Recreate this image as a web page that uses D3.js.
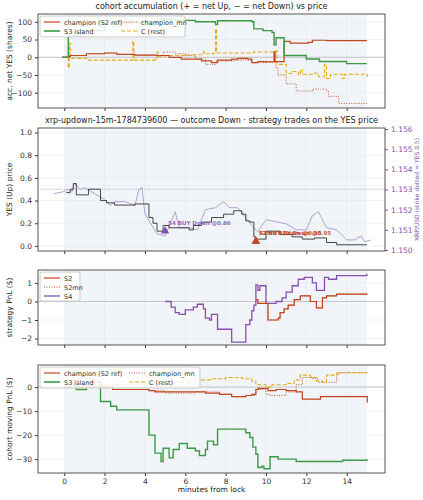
<!DOCTYPE html>
<html><head><meta charset="utf-8">
<script src="https://cdn.jsdelivr.net/npm/d3@7"></script>
<style>body{margin:0;background:#fff}text{font-family:"DejaVu Sans",sans-serif}</style>
</head><body><div id="chart"></div>
<script>
// ---- data (minutes from lock, value) ----
const xTicks = [0, 2, 4, 6, 8, 10, 12, 14];

const accChampion = [[-0.1,0],[0.2,2],[0.3,5],[1.0,5],[1.1,10],[2.0,12],[2.6,8],[3.5,6],[4.6,5],[5.2,0],[5.8,-5],[6.8,-10],[7.3,-15],[7.6,-8],[8.3,-5],[8.6,-3],[9.1,-5],[9.3,-15],[9.6,-12],[10.0,-13],[10.4,15],[10.45,-12],[10.9,45],[11.2,40],[12.1,42],[12.3,48],[13.0,47],[15,47]];
const accChampionMn = [[-0.1,0],[0.2,2],[0.3,5],[1.0,5],[1.1,10],[2.0,12],[2.6,8],[3.5,6],[4.6,5],[4.9,15],[5.5,10],[6.0,5],[6.5,-5],[7.0,-20],[7.5,-10],[8.5,-8],[9.3,-15],[10.0,-12],[10.5,-30],[10.6,-50],[11.0,-75],[11.5,-95],[12.3,-90],[13.0,-95],[13.1,-110],[13.6,-130],[15,-132]];
const accS3 = [[-0.1,0],[0.2,60],[0.8,75],[2.0,97],[3.8,100],[4.85,108],[5.5,104],[6.5,100],[7.5,92],[7.6,103],[9.3,100],[9.4,80],[9.85,75],[10.3,70],[10.4,35],[10.5,55],[10.9,5],[12.0,-5],[12.65,-12],[14.0,-18],[15,-18]];
const accRest = [[-0.1,0],[0.2,-30],[0.25,40],[0.3,-3],[1.2,-8],[3.4,45],[3.45,-8],[4.6,15],[4.65,3],[5.0,5],[6.0,7],[6.9,15],[6.95,10],[7.4,12],[7.5,80],[7.55,12],[9.2,12],[9.4,15],[10.5,18],[10.55,-20],[11.0,-45],[11.3,-40],[11.6,-50],[11.7,-35],[11.8,-48],[12.3,-45],[12.6,-55],[12.9,-20],[13.0,-60],[13.2,-48],[13.8,-60],[13.9,-48],[15,-48],[15.02,-55]];

const yesPrice = [[0.1,0.47],[0.3,0.5],[0.45,0.55],[0.6,0.45],[1.2,0.5],[1.8,0.4],[2.1,0.38],[2.5,0.36],[3.5,0.37],[4.2,0.25],[4.4,0.2],[4.6,0.13],[4.9,0.18],[5.2,0.16],[6.2,0.14],[6.4,0.18],[6.8,0.21],[7.3,0.25],[7.9,0.28],[8.4,0.31],[8.8,0.28],[9.0,0.22],[9.2,0.21],[9.4,0.08],[9.5,0.06],[10.0,0.13],[10.7,0.1],[11.3,0.08],[11.8,0.06],[12.4,0.07],[13.0,0.03],[13.5,0.01],[15,0.01]];
const xrpUsd = [[-0.5,1.1528],[0,1.1529],[0.2,1.1530],[0.4,1.1529],[0.5,1.1533],[0.8,1.1530],[1.0,1.1531],[1.5,1.1528],[2.0,1.1525],[2.3,1.1522],[2.5,1.1524],[3.0,1.1524],[3.3,1.1523],[3.5,1.1522],[3.7,1.1530],[3.85,1.1531],[4.0,1.1518],[4.3,1.1513],[4.6,1.1508],[5.0,1.1507],[5.5,1.1519],[5.7,1.1511],[6.2,1.1511],[6.6,1.1510],[7.0,1.1520],[7.5,1.1521],[7.9,1.1524],[8.2,1.1521],[8.6,1.1521],[9.0,1.1516],[9.4,1.1511],[9.6,1.1509],[10.0,1.1515],[10.5,1.1514],[11.0,1.1513],[11.5,1.1510],[12.0,1.1510],[12.3,1.1517],[12.6,1.1519],[13.0,1.1511],[13.5,1.1510],[14.0,1.1505],[14.4,1.1505],[14.7,1.1507],[14.9,1.1504],[15.2,1.1505]];
const trades = [
  {t: 5.0, p: 0.13, who: 'S4', label: 'S4 BUY Down @0.86'},
  {t: 9.5, p: 0.04, who: 'S2', label: 'S2 BUY Down @0.95'},
  {t: 9.5, p: 0.04, who: 'S2', label: 'S2mn BUY Down @0.95'}
];

const pnlS4 = [[5.0,0],[5.3,-0.3],[5.5,-0.6],[5.7,-0.7],[6.0,-0.45],[6.4,-0.3],[6.6,-0.15],[6.9,-0.4],[7.0,-0.9],[7.2,-1.0],[7.3,-0.7],[7.6,-1.5],[8.3,-2.2],[9.0,-1.25],[9.2,-1.0],[9.3,-0.5],[9.4,-0.2],[9.5,0.9],[9.6,0.6],[9.7,0.85],[10.0,-0.1],[10.5,0.0],[10.8,0.2],[11.0,0.5],[11.3,0.85],[11.6,1.2],[11.9,1.3],[12.3,1.0],[12.5,0.6],[12.9,1.3],[13.1,1.2],[13.5,1.4],[15,1.5]];
const pnlS2 = [[9.5,0.1],[9.6,-0.1],[10.1,-1.0],[10.6,-0.9],[10.7,-0.6],[10.9,-0.4],[11.1,-0.2],[11.4,0.1],[11.7,0.3],[12.1,0.3],[12.2,0.0],[12.5,-0.35],[12.8,0.2],[13.0,0.3],[13.5,0.4],[15,0.45]];
const pnlS2mn = pnlS2;

const movChampion = [[0,0],[2.4,-1],[4.2,-1.5],[4.5,-2],[7.0,-2.5],[7.7,-3],[8.3,-4],[9.0,-3.5],[9.3,-3],[9.5,-1],[9.6,-0.5],[10.1,-1.5],[10.5,-1],[11.0,-1.5],[11.5,-2],[11.8,-5],[12.7,-4],[15,-4],[15.02,-6.5]];
const movChampionMn = [[0,0],[2.4,-1],[4.2,-1.5],[5.0,-2.5],[6.5,-2],[7.7,-3],[8.3,-4],[9.0,-3.5],[9.5,-1],[10.0,-3],[10.2,-3.5],[11.0,-2],[11.5,1],[11.8,4],[12.3,3.5],[12.6,2],[13.5,5],[13.6,6],[15,6.5]];
const movS3 = [[0,0],[0.5,1],[0.6,-1],[1.1,2],[1.8,-6],[2.3,-8],[2.6,-9.5],[4.2,-20],[4.5,-27.5],[4.8,-31],[4.9,-25.5],[5.2,-29.5],[5.4,-26],[5.7,-23.5],[6.1,-25.5],[6.5,-26.5],[6.7,-28.5],[7.0,-26],[7.1,-22.5],[7.4,-24],[7.6,-17.5],[9.0,-19],[9.2,-21],[9.35,-25],[9.5,-28],[9.6,-33.5],[9.8,-33],[9.9,-34],[10.2,-29],[10.6,-30],[11.5,-31],[12.7,-31],[13.8,-30.5],[15,-30]];
const movRest = [[0,0],[1.0,0.5],[2.5,1],[4.0,1.5],[5.0,2],[6.5,3],[7.3,3.5],[8.0,4],[8.8,3.5],[9.3,2.5],[9.5,1],[10.0,0],[10.3,1],[11.0,1.5],[11.4,3],[11.7,5],[12.2,4],[12.5,2.5],[12.8,2],[13.0,5],[13.5,6],[15,6.2]];

// ---- layout ----
const W = 423, H = 500;
const L = 38, R = 385;
const RED = '#c0461c', GREEN = '#3b9a46', YEL = '#e3ab14', PUR = '#8650b0', XRPC = '#a898d2';

const svg = d3.select('#chart').append('svg').attr('width', W).attr('height', H);
const x = d3.scaleLinear().domain([-1.3, 15.9]).range([L, R]);

function panel(top, bottom, yDomain, yTicks, yLabel, title, showX, yFmt) {
  const y = d3.scaleLinear().domain(yDomain).range([bottom, top]);
  const g = svg.append('g');
  g.append('rect').attr('x', L).attr('y', top).attr('width', R - L).attr('height', bottom - top).attr('fill', '#fff');
  g.append('rect').attr('x', x(0)).attr('y', top).attr('width', x(15) - x(0)).attr('height', bottom - top).attr('fill', '#eef1f8').attr('opacity', 0.8);
  // grid
  g.selectAll('.gx').data(xTicks).enter().append('line')
    .attr('x1', d => x(d)).attr('x2', d => x(d)).attr('y1', top).attr('y2', bottom)
    .attr('stroke', '#e4e4e4').attr('stroke-width', 0.5);
  g.selectAll('.gy').data(yTicks).enter().append('line')
    .attr('x1', L).attr('x2', R).attr('y1', d => y(d)).attr('y2', d => y(d))
    .attr('stroke', '#e4e4e4').attr('stroke-width', 0.5);
  const ax = g.append('g').attr('transform', `translate(0,${bottom})`)
    .call(d3.axisBottom(x).tickValues(xTicks).tickSize(3).tickFormat(showX ? d3.format('d') : ''));
  const fmt = yFmt || d3.format('');
  const ay = g.append('g').attr('transform', `translate(${L},0)`)
    .call(d3.axisLeft(y).tickValues(yTicks).tickSize(3).tickFormat(d => fmt(d).replace('-', '\u2212')));
  [ax, ay].forEach(a => {
    a.select('.domain').remove();
    a.selectAll('text').attr('font-size', 7.5).attr('fill', '#333');
    a.selectAll('line').attr('stroke', '#333');
  });
  g.append('text').attr('transform', `translate(12,${(top + bottom) / 2}) rotate(-90)`)
    .attr('text-anchor', 'middle').attr('font-size', 7.5).attr('fill', '#222').text(yLabel);
  if (title) g.append('text').attr('x', (L + R) / 2).attr('y', top - 5).attr('text-anchor', 'middle')
    .attr('font-size', 8).attr('fill', '#222').text(title);
  return {g, y, top, bottom};
}
function frame(p) {
  p.g.append('rect').attr('x', L).attr('y', p.top).attr('width', R - L).attr('height', p.bottom - p.top)
    .attr('fill', 'none').attr('stroke', '#555').attr('stroke-width', 1);
}
function zero(p) {
  p.g.append('line').attr('x1', L).attr('x2', R).attr('y1', p.y(0)).attr('y2', p.y(0))
    .attr('stroke', '#bbb').attr('stroke-width', 0.8);
}
function step(p, data, color, w, dash, yScale) {
  const ys = yScale || p.y;
  p.g.append('path').datum(data)
    .attr('d', d3.line().x(d => x(d[0])).y(d => ys(d[1])).curve(d3.curveStepAfter))
    .attr('fill', 'none').attr('stroke', color).attr('stroke-width', w)
    .attr('stroke-dasharray', dash || null);
}
function legend(p, items, x0, y0, colW, cols, boxW, boxH) {
  const lg = p.g.append('g');
  lg.append('rect').attr('x', x0).attr('y', y0).attr('width', boxW).attr('height', boxH)
    .attr('fill', '#fff').attr('fill-opacity', 0.85).attr('stroke', '#ccc').attr('rx', 2);
  const rows = Math.ceil(items.length / cols);
  items.forEach((it, i) => {
    const cx = x0 + 4 + Math.floor(i / rows) * colW;
    const cy = y0 + 6 + (i % rows) * 9;
    lg.append('line').attr('x1', cx).attr('x2', cx + 16).attr('y1', cy).attr('y2', cy)
      .attr('stroke', it.c).attr('stroke-width', it.w).attr('stroke-dasharray', it.d || null);
    lg.append('text').attr('x', cx + 20).attr('y', cy + 2.5).attr('font-size', 6.5).attr('fill', '#333').text(it.n);
  });
}
const cohortItems = [
  {n: 'champion (S2 ref)', c: RED, w: 1.2},
  {n: 'S3 island', c: GREEN, w: 1.6},
  {n: 'champion_mn', c: RED, w: 0.9, d: '1,1.5'},
  {n: 'C (rest)', c: YEL, w: 1.2, d: '4,2'}
];

// panel 1
const p1 = panel(14, 108, [-143, 122], [-100, -50, 0, 50, 100], 'acc. net YES (shares)',
  'cohort accumulation (+ = net Up, \u2212 = net Down) vs price', false);
zero(p1);
step(p1, accChampionMn, RED, 0.9, '1,1.5');
step(p1, accRest, YEL, 1.1, '4,2');
step(p1, accChampion, RED, 1.2);
step(p1, accS3, GREEN, 1.4);
legend(p1, cohortItems, 40, 16, 77, 2, 145, 21);
frame(p1);

// panel 2
const p2 = panel(128, 251, [-0.045, 1.04], [0, 0.2, 0.4, 0.6, 0.8, 1.0], 'YES (Up) price',
  'xrp-updown-15m-1784739600 \u2014 outcome Down \u00b7 strategy trades on the YES price', false, d3.format('.1f'));
const yR = d3.scaleLinear().domain([1.14995, 1.15605]).range([251, 128]);
p2.g.append('line').attr('x1', L).attr('x2', R).attr('y1', p2.y(0.5)).attr('y2', p2.y(0.5))
  .attr('stroke', '#aaa').attr('stroke-width', 0.8).attr('stroke-dasharray', '1,1');
p2.g.append('path').datum(xrpUsd)
  .attr('d', d3.line().x(d => x(d[0])).y(d => yR(d[1])))
  .attr('fill', 'none').attr('stroke', XRPC).attr('stroke-width', 0.9);
step(p2, yesPrice, '#333', 0.9);
trades.forEach(t => {
  const c = t.who === 'S4' ? PUR : RED;
  p2.g.append('path').attr('d', d3.symbol(d3.symbolTriangle, 30)())
    .attr('transform', `translate(${x(t.t)},${p2.y(t.p)})`).attr('fill', c);
  p2.g.append('text').attr('x', x(t.t) + 3).attr('y', p2.y(t.p) - 6).attr('font-size', 5.5)
    .attr('font-weight', 'bold').attr('fill', c).attr('opacity', 0.85).text(t.label);
});
const ar = p2.g.append('g').attr('transform', `translate(${R},0)`)
  .call(d3.axisRight(yR).tickValues([1.150, 1.151, 1.152, 1.153, 1.154, 1.155, 1.156]).tickSize(3).tickFormat(d3.format('.3f')));
ar.select('.domain').remove();
ar.selectAll('text').attr('font-size', 7.5).attr('fill', PUR);
ar.selectAll('line').attr('stroke', PUR);
p2.g.append('text').attr('transform', `translate(419,${(128 + 251) / 2}) rotate(-90)`)
  .attr('text-anchor', 'middle').attr('font-size', 6).attr('fill', PUR).text('XRP/USD (strike dotted = YES 0.5)');
frame(p2);

// panel 3
const p3 = panel(270, 345, [-2.35, 1.7], [-2, -1, 0, 1], 'strategy PnL ($)', null, false);
zero(p3);
step(p3, pnlS4, PUR, 1.3);
step(p3, pnlS2mn, RED, 1, '1,1.5');
step(p3, pnlS2, RED, 1.2);
legend(p3, [{n: 'S2', c: RED, w: 1.2}, {n: 'S2mn', c: RED, w: 1, d: '1,1.5'}, {n: 'S4', c: PUR, w: 1.3}], 40, 272, 60, 1, 40, 29);
frame(p3);

// panel 4
const p4 = panel(365, 473, [-35.8, 9.2], [-30, -20, -10, 0], 'cohort moving PnL ($)', null, true);
zero(p4);
step(p4, movChampionMn, RED, 0.9, '1,1.5');
step(p4, movRest, YEL, 1.1, '4,2');
step(p4, movChampion, RED, 1.2);
step(p4, movS3, GREEN, 1.4);
legend(p4, cohortItems, 40, 367, 85, 2, 160, 21);
frame(p4);
svg.append('text').attr('x', (L + R) / 2).attr('y', 492).attr('text-anchor', 'middle')
  .attr('font-size', 7.5).attr('fill', '#222').text('minutes from lock');
</script></body></html>
